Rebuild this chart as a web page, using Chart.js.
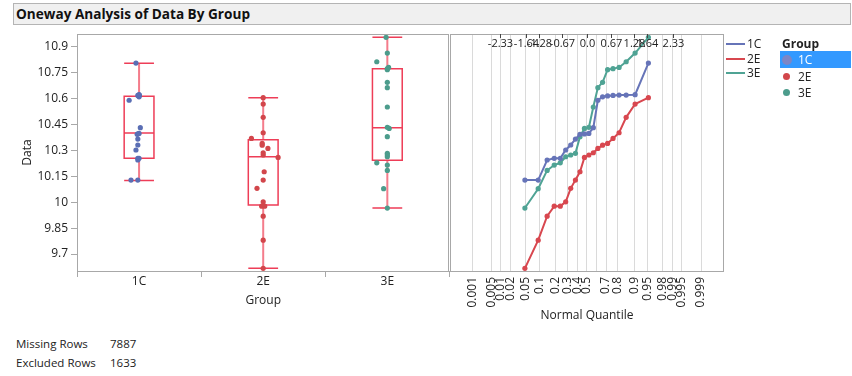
<!DOCTYPE html>
<html>
<head>
<meta charset="utf-8">
<script src="https://cdn.jsdelivr.net/npm/chart.js@4.4.0/dist/chart.umd.min.js"></script>
<style>
  body { margin: 0; background: #fff; font-family: "Open Sans", sans-serif; color: #222; }
  #wrap { position: relative; width: 852px; height: 376px; overflow: hidden; }
  .abs { position: absolute; white-space: nowrap; }
  #title { left: 13px; top: 3px; width: 838px; height: 22px; background: #F0F0F0; border: 1px solid #B4B4B4;
           box-sizing: border-box; font-weight: bold; font-size: 13.6px; line-height: 19px; padding-left: 2px; color: #111; }
  .txt { font-size: 12px; line-height: 15px; color: #222; }
  .small { font-size: 11.5px; }
  .lline { height: 2px; width: 19px; }
  .dot { border-radius: 50%; }
</style>
</head>
<body>
<div id="wrap">
  <div id="title" class="abs">Oneway Analysis of Data By Group</div>
  <canvas id="boxChart" class="abs" style="left:0;top:0" width="452" height="320"></canvas>
  <canvas id="qqChart" class="abs" style="left:440px;top:0" width="290" height="330"></canvas>

  <div class="abs lline" style="left:726px;top:43px;background:#6674B8"></div>
  <div class="abs txt" style="left:747px;top:36px">1C</div>
  <div class="abs lline" style="left:726px;top:58px;background:#D8474F"></div>
  <div class="abs txt" style="left:747px;top:51px">2E</div>
  <div class="abs lline" style="left:726px;top:72px;background:#4FA394"></div>
  <div class="abs txt" style="left:747px;top:65px">3E</div>

  <div class="abs txt" style="left:782px;top:36px;font-weight:bold">Group</div>
  <div class="abs" style="left:780px;top:51px;width:71px;height:17px;background:#3399FF"></div>
  <div class="abs dot" style="left:782px;top:55px;width:10px;height:10px;background:#7C86C6"></div>
  <div class="abs txt" style="left:798px;top:52px;color:#fff">1C</div>
  <div class="abs dot" style="left:783px;top:73px;width:7px;height:7px;background:#D2464B"></div>
  <div class="abs txt" style="left:798px;top:69px">2E</div>
  <div class="abs dot" style="left:783px;top:89px;width:7px;height:7px;background:#4C9C8C"></div>
  <div class="abs txt" style="left:798px;top:85px">3E</div>

  <div class="abs txt small" style="left:16px;top:336px">Missing Rows</div>
  <div class="abs txt small" style="left:110px;top:336px">7887</div>
  <div class="abs txt small" style="left:16px;top:355px">Excluded Rows</div>
  <div class="abs txt small" style="left:110px;top:355px">1633</div>
</div>
<script>
// groups and sorted values per group
const groups = ['1C', '2E', '3E'];
const values1C = [10.128, 10.128, 10.244, 10.254, 10.254, 10.302, 10.331, 10.365, 10.393, 10.395,
                  10.398, 10.431, 10.590, 10.610, 10.615, 10.618, 10.620, 10.620, 10.622, 10.805];
const values2E = [9.617, 9.780, 9.919, 9.977, 9.977, 10.002, 10.080, 10.128, 10.176, 10.259,
                  10.273, 10.286, 10.311, 10.330, 10.340, 10.369, 10.402, 10.491, 10.568, 10.605];
const values3E = [9.966, 10.078, 10.184, 10.215, 10.228, 10.263, 10.273, 10.283, 10.379, 10.427,
                  10.433, 10.551, 10.663, 10.694, 10.767, 10.773, 10.780, 10.813, 10.863, 10.954];

// horizontal jitter of the dots in the box plot (fraction of a category)
const jitter1C = [-0.065, -0.01, -0.01, -0.01, 0, -0.025, -0.01, -0.01, -0.015, -0.01,
                  0, 0.01, -0.08, 0, 0, -0.01, 0, 0, 0, -0.025];
const jitter2E = [0, 0, 0, -0.012, 0.012, 0, -0.05, 0, 0.008, 0.12,
                  0, 0, 0.038, -0.008, -0.008, -0.095, 0, 0, 0, 0];
const jitter3E = [0, -0.03, 0, 0, -0.085, 0, 0, 0, 0, 0.015,
                  0, 0, 0, 0, 0, 0, 0.01, -0.085, 0, -0.01];

// box plot statistics
const boxLow = [10.126, 9.618, 9.966];
const boxQ1 = [10.254, 9.983, 10.242];
const boxMedian = [10.400, 10.263, 10.431];
const boxQ3 = [10.613, 10.361, 10.773];
const boxHigh = [10.804, 10.605, 10.954];

const yTicks = [9.7, 9.85, 10, 10.15, 10.3, 10.45, 10.6, 10.75, 10.9];
const yTickLabels = ['9.7', '9.85', '10', '10.15', '10.3', '10.45', '10.6', '10.75', '10.9'];
const probTicks = [0.001, 0.005, 0.01, 0.02, 0.05, 0.1, 0.2, 0.3, 0.4, 0.5, 0.6, 0.7, 0.8, 0.9, 0.95, 0.98, 0.99, 0.995, 0.999];
const probLabels = ['0.001', '0.005', '0.01', '0.02', '0.05', '0.1', '0.2', '0.3', '0.4', '0.5', '', '0.7', '0.8', '0.9', '0.95', '0.98', '0.99', '0.995', '0.999'];
const zTicks = [-2.33, -1.64, -1.28, -0.67, 0, 0.67, 1.28, 1.64, 2.33];
const zTickLabels = ['-2.33', '-1.64', '-1.28', '-0.67', '0.0', '0.67', '1.28', '1.64', '2.33'];

const groupValues = [values1C, values2E, values3E];
const groupJitter = [jitter1C, jitter2E, jitter3E];
const dotColors = ['#5A6EB4', '#D2464B', '#4C9C8C'];
const lineColors = ['#6674B8', '#D8474F', '#4FA394'];
const FONT = { family: '"Open Sans", sans-serif', size: 12 };
const TEXT = '#222';
const FRAME = '#A8A8A8';

// inverse normal CDF (Acklam)
function probit(p) {
  const a = [-3.969683028665376e+01, 2.209460984245205e+02, -2.759285104469687e+02, 1.383577518672690e+02, -3.066479806614716e+01, 2.506628277459239e+00];
  const b = [-5.447609879822406e+01, 1.615858368580409e+02, -1.556989798598866e+02, 6.680131188771720e+01, -1.328068155288572e+01];
  const c = [-7.784894002430293e-03, -3.223964580411365e-01, -2.400758277161838e+00, -2.549732539343734e+00, 4.374664141464968e+00, 2.938163982698783e+00];
  const d = [7.784695709041462e-03, 3.224671290700398e-01, 2.445134137142996e+00, 3.754408661907416e+00];
  const pl = 0.02425;
  let q, r;
  if (p < pl) {
    q = Math.sqrt(-2 * Math.log(p));
    return (((((c[0]*q+c[1])*q+c[2])*q+c[3])*q+c[4])*q+c[5]) / ((((d[0]*q+d[1])*q+d[2])*q+d[3])*q+1);
  }
  if (p > 1 - pl) {
    q = Math.sqrt(-2 * Math.log(1 - p));
    return -(((((c[0]*q+c[1])*q+c[2])*q+c[3])*q+c[4])*q+c[5]) / ((((d[0]*q+d[1])*q+d[2])*q+d[3])*q+1);
  }
  q = p - 0.5; r = q * q;
  return (((((a[0]*r+a[1])*r+a[2])*r+a[3])*r+a[4])*r+a[5])*q / (((((b[0]*r+b[1])*r+b[2])*r+b[3])*r+b[4])*r+1);
}

const framePlugin = {
  id: 'frame',
  afterDraw(chart) {
    const { ctx, chartArea: a } = chart;
    ctx.save();
    ctx.strokeStyle = FRAME;
    ctx.lineWidth = 1;
    ctx.strokeRect(Math.round(a.left) + 0.5, Math.round(a.top) + 0.5, Math.round(a.right - a.left) - 1, Math.round(a.bottom - a.top));
    ctx.restore();
  }
};

const boxPlugin = {
  id: 'boxes',
  beforeDatasetsDraw(chart) {
    const { ctx } = chart;
    const x = chart.scales.x, y = chart.scales.y;
    const hw = 0.12;
    ctx.save();
    groups.forEach((g, i) => {
      const xl = x.getPixelForValue(i - hw), xr = x.getPixelForValue(i + hw), xc = x.getPixelForValue(i);
      const yLo = y.getPixelForValue(boxLow[i]), yQ1 = y.getPixelForValue(boxQ1[i]);
      const yMd = y.getPixelForValue(boxMedian[i]), yQ3 = y.getPixelForValue(boxQ3[i]);
      const yHi = y.getPixelForValue(boxHigh[i]);
      // whiskers
      ctx.strokeStyle = 'rgba(240,80,100,0.75)';
      ctx.lineWidth = 2;
      ctx.beginPath();
      ctx.moveTo(xc, yLo); ctx.lineTo(xc, yQ1);
      ctx.moveTo(xc, yQ3); ctx.lineTo(xc, yHi);
      ctx.stroke();
      // caps, box, median
      ctx.strokeStyle = '#EE3D57';
      ctx.lineWidth = 1.5;
      ctx.beginPath();
      ctx.moveTo(xl, yLo); ctx.lineTo(xr, yLo);
      ctx.moveTo(xl, yHi); ctx.lineTo(xr, yHi);
      ctx.moveTo(xl, yMd); ctx.lineTo(xr, yMd);
      ctx.rect(xl, yQ3, xr - xl, yQ1 - yQ3);
      ctx.stroke();
    });
    ctx.restore();
  }
};

const topQuantilePlugin = {
  id: 'topQuantiles',
  afterDraw(chart) {
    const { ctx, chartArea: a } = chart;
    const x = chart.scales.x;
    ctx.save();
    ctx.font = '11px "Open Sans", sans-serif';
    ctx.fillStyle = TEXT;
    ctx.strokeStyle = '#444';
    ctx.lineWidth = 1;
    ctx.textAlign = 'center';
    ctx.textBaseline = 'middle';
    zTicks.forEach((z, i) => {
      const px = Math.round(x.getPixelForValue(z)) + 0.5;
      ctx.beginPath();
      ctx.moveTo(px, a.top); ctx.lineTo(px, a.top + 4);
      ctx.stroke();
      ctx.fillText(zTickLabels[i], px, a.top + 10);
    });
    ctx.restore();
  }
};

new Chart(document.getElementById('boxChart'), {
  type: 'scatter',
  data: {
    datasets: groups.map((g, gi) => ({
      label: g,
      data: groupValues[gi].map((v, i) => ({ x: gi + groupJitter[gi][i], y: v })),
      backgroundColor: dotColors[gi],
      borderColor: dotColors[gi],
      pointRadius: 2.6,
      pointHoverRadius: 2.6,
      borderWidth: 0
    }))
  },
  options: {
    responsive: false,
    animation: false,
    events: [],
    layout: { padding: { top: 34, right: 2, left: 0, bottom: 0 } },
    plugins: { legend: { display: false }, tooltip: { enabled: false } },
    scales: {
      x: {
        type: 'linear', min: -0.5, max: 2.5,
        afterBuildTicks: s => { s.ticks = [-0.5, 0, 0.5, 1, 1.5, 2, 2.5].map(v => ({ value: v })); },
        afterFit: s => { s.height = 49; },
        border: { display: false },
        grid: {
          drawOnChartArea: false, drawTicks: true, tickLength: 6,
          tickColor: c => (c.tick && Number.isInteger(c.tick.value)) ? 'rgba(0,0,0,0)' : FRAME
        },
        ticks: {
          autoSkip: false, maxRotation: 0, padding: -3, color: TEXT, font: FONT,
          callback: v => Number.isInteger(v) ? groups[v] : ''
        },
        title: { display: true, text: 'Group', color: TEXT, font: FONT, padding: { top: 0, bottom: 12 } }
      },
      y: {
        min: 9.6016, max: 10.9735,
        afterBuildTicks: s => { s.ticks = yTicks.map(v => ({ value: v })); },
        afterFit: s => { s.width = 77; },
        border: { display: false },
        grid: { drawOnChartArea: false, drawTicks: true, tickLength: 6, tickColor: FRAME },
        ticks: { padding: 3, color: TEXT, font: FONT, callback: (v, i) => yTickLabels[i] },
        title: { display: true, text: 'Data', color: TEXT, font: FONT, padding: { top: 20, bottom: 0 } }
      }
    }
  },
  plugins: [boxPlugin, framePlugin]
});

new Chart(document.getElementById('qqChart'), {
  type: 'scatter',
  data: {
    datasets: groups.map((g, gi) => ({
      label: g,
      data: groupValues[gi].map((v, i) => ({ x: probit((i + 1) / (groupValues[gi].length + 1)), y: v })),
      showLine: true,
      borderColor: lineColors[gi],
      backgroundColor: lineColors[gi],
      borderWidth: 2,
      pointRadius: 2.6,
      pointHoverRadius: 2.6,
      pointBorderWidth: 0
    }))
  },
  options: {
    responsive: false,
    animation: false,
    events: [],
    layout: { padding: { top: 34, right: 6, left: 10, bottom: 0 } },
    plugins: { legend: { display: false }, tooltip: { enabled: false } },
    scales: {
      x: {
        type: 'linear', min: -3.692, max: 3.711,
        afterBuildTicks: s => { s.ticks = probTicks.map(p => ({ value: probit(p) })); },
        afterFit: s => { s.height = 59; },
        border: { display: false },
        grid: { color: '#DADADA', drawTicks: false },
        ticks: {
          autoSkip: false, minRotation: 90, maxRotation: 90, padding: 6, color: TEXT, font: FONT,
          callback: (v, i) => probLabels[i]
        },
        title: { display: true, text: 'Normal Quantile', color: TEXT, font: FONT, padding: { top: 0, bottom: 7 } }
      },
      y: { display: false, min: 9.6016, max: 10.9735 }
    }
  },
  plugins: [framePlugin, topQuantilePlugin]
});
</script>
</body>
</html>
